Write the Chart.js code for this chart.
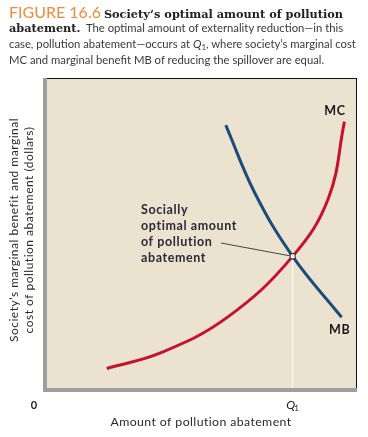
<!DOCTYPE html>
<html>
<head>
<meta charset="utf-8">
<script src="https://cdn.jsdelivr.net/npm/chart.js@4"></script>
<style>
  body { margin: 0; background: #fff; }
  #wrap { position: relative; width: 368px; height: 437px; }
  #cap { position: absolute; left: 9px; top: 4px; white-space: nowrap; font: 11.3px/16px Lato, sans-serif; color: #3a3a3a; }
  #cap div { height: 16px; }
  #cap .fig { color: #f28b3d; font-size: 16px; }
  #cap b { font-family: 'DejaVu Serif', serif; font-size: 11.3px; color: #222; }
  #cap sub { font-size: 8px; line-height: 0; vertical-align: -2px; }
</style>
</head>
<body>
<div id="wrap">
  <canvas id="chart" width="368" height="437"></canvas>
  <div id="cap">
    <div><span class="fig">FIGURE 16.6</span> <b>Society’s optimal amount of pollution</b></div>
    <div><b>abatement.</b>&nbsp; The optimal amount of externality reduction—in this</div>
    <div>case, pollution abatement—occurs at <i>Q</i><sub>1</sub>, where society’s marginal cost</div>
    <div>MC and marginal benefit MB of reducing the spillover are equal.</div>
  </div>
</div>
<script>
// curves (0-10 units on both axes)
const mcX = [2.03, 3.78, 5.90, 7.95, 9.09, 9.60];
const mcY = [0.75, 1.26, 2.40, 4.32, 6.17, 8.61];
const mbX = [5.82, 6.75, 7.95, 9.51];
const mbY = [8.50, 6.33, 4.32, 2.38];
const qStar = 7.95;
const eqY = 4.32;
const xTickLabels = ['0', 'Q'];
const curveLabels = ['MC', 'MB'];
const noteLines = ['Socially', 'optimal amount', 'of pollution', 'abatement'];
const yTitle = ['Society’s marginal benefit and marginal', 'cost of pollution abatement (dollars)'];
const xTitle = 'Amount of pollution abatement';

const toPts = (xs, ys) => xs.map((x, i) => ({ x: x, y: ys[i] }));

const figPlugin = {
    id: 'fig',
    beforeDatasetsDraw(chart) {
        const { ctx, chartArea: a, scales: { x, y } } = chart;
        ctx.save();
        ctx.fillStyle = '#ece2d0';
        ctx.fillRect(a.left, a.top, a.right - a.left, a.bottom - a.top);
        // Q1 drop line
        ctx.strokeStyle = '#fbf8f2';
        ctx.lineWidth = 1.2;
        ctx.beginPath();
        ctx.moveTo(x.getPixelForValue(qStar), y.getPixelForValue(eqY));
        ctx.lineTo(x.getPixelForValue(qStar), a.bottom);
        ctx.stroke();
        ctx.restore();
    },
    afterDatasetsDraw(chart) {
        const { ctx, chartArea: a, scales: { x, y } } = chart;
        ctx.save();
        // frame
        ctx.fillStyle = '#9e9e9e';
        ctx.fillRect(a.left, a.top, 4, a.bottom - a.top);
        ctx.fillRect(a.left, a.bottom - 4, a.right - a.left, 4);
        ctx.fillStyle = '#111';
        ctx.fillRect(a.left + 4, a.top, a.right - a.left - 4, 1);
        ctx.fillRect(a.right - 1, a.top, 1, a.bottom - a.top - 4);

        const ex = x.getPixelForValue(qStar), ey = y.getPixelForValue(eqY);
        // leader line
        ctx.strokeStyle = '#333';
        ctx.lineWidth = 0.9;
        ctx.beginPath();
        ctx.moveTo(221, 243);
        ctx.lineTo(ex, ey);
        ctx.stroke();
        // equilibrium marker
        ctx.fillStyle = '#fff';
        ctx.fillRect(ex - 2.5, ey - 2.5, 5, 5);
        ctx.strokeStyle = '#222';
        ctx.lineWidth = 1;
        ctx.strokeRect(ex - 2.5, ey - 2.5, 5, 5);

        ctx.fillStyle = '#2a2a35';
        ctx.font = 'bold 12.5px Lato, sans-serif';
        ctx.letterSpacing = '0.6px';
        ctx.textBaseline = 'alphabetic';
        ctx.textAlign = 'left';
        noteLines.forEach((t, i) => ctx.fillText(t, 141, 213.5 + i * 16.3));

        ctx.fillStyle = '#1a1a1a';
        ctx.font = 'bold 12.5px Lato, sans-serif';
        ctx.letterSpacing = '0.8px';
        ctx.textAlign = 'center';
        ctx.textBaseline = 'middle';
        ctx.fillText(curveLabels[0], x.getPixelForValue(9.3), y.getPixelForValue(8.95));
        ctx.fillText(curveLabels[1], x.getPixelForValue(9.45), y.getPixelForValue(1.98));
        ctx.letterSpacing = '0px';

        // tick labels
        ctx.font = 'bold 11px Lato, sans-serif';
        ctx.fillText(xTickLabels[0], x.getPixelForValue(0) - 9, a.bottom + 13);
        ctx.font = 'italic 12px Lato, sans-serif';
        ctx.fillText(xTickLabels[1], ex - 2, a.bottom + 13);
        ctx.font = '8px Lato, sans-serif';
        ctx.fillText('1', ex + 4, a.bottom + 16);

        // axis titles
        ctx.fillStyle = '#2a2a2a';
        ctx.font = '12.3px Lato, sans-serif';
        ctx.letterSpacing = '0.4px';
        ctx.fillText(xTitle, 201, a.bottom + 30);
        ctx.save();
        ctx.translate(14, (a.top + a.bottom) / 2 - 5);
        ctx.rotate(-Math.PI / 2);
        ctx.font = '12px Lato, sans-serif';
        ctx.letterSpacing = '0.5px';
        ctx.fillText(yTitle[0], 0, 0);
        ctx.fillText(yTitle[1], 0, 15);
        ctx.restore();
        ctx.restore();
    }
};

new Chart(document.getElementById('chart'), {
    type: 'line',
    data: {
        datasets: [
            { label: 'MC', data: toPts(mcX, mcY), borderColor: '#c8102e', borderWidth: 3, pointRadius: 0, tension: 0.4, fill: false },
            { label: 'MB', data: toPts(mbX, mbY), borderColor: '#1c4c7c', borderWidth: 3, pointRadius: 0, tension: 0.4, fill: false }
        ]
    },
    options: {
        responsive: false,
        animation: false,
        layout: { padding: { left: 43, right: 11, top: 78, bottom: 45 } },
        plugins: { legend: { display: false }, tooltip: { enabled: false } },
        scales: {
            x: { type: 'linear', min: 0, max: 10, display: false },
            y: { type: 'linear', min: 0, max: 10, display: false }
        }
    },
    plugins: [figPlugin]
});
</script>
</body>
</html>
